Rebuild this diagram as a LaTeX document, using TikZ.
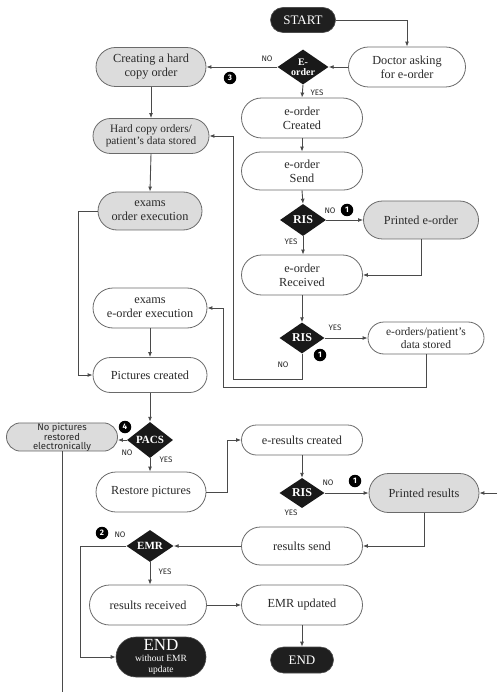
\documentclass[tikz,border=0pt]{standalone}
\usepackage{fontspec}
\setmainfont{Liberation Serif}
\setsansfont{Fira Sans}
\usetikzlibrary{shapes.misc,shapes.geometric,arrows.meta}
\definecolor{boxline}{HTML}{6A6A6A}
\definecolor{boxgray}{HTML}{DCDCDC}
\definecolor{lin}{HTML}{4A4A4A}
\definecolor{txt}{HTML}{2A2A2A}
\begin{document}
\begin{tikzpicture}[x=1pt,y=-1pt,
 box/.style={rounded rectangle, draw=boxline, line width=0.8pt, fill=white, align=center, font=\fontsize{12.3}{14}\selectfont, text=txt, inner sep=1pt},
 gbox/.style={box, fill=boxgray},
 term/.style={rounded rectangle, fill=black!88, draw=black!70, line width=0.6pt, text=white, align=center, inner sep=1pt},
 diam/.style={diamond, fill=black!90, draw=none, inner sep=0pt},
 dtext/.style={text=white, font=\bfseries\fontsize{12}{12}\selectfont, inner sep=0pt, align=center},
 lab/.style={font=\sffamily\fontsize{8}{8}\selectfont, text=txt, inner sep=0pt},
 num/.style={circle, fill=black, text=white, font=\sffamily\bfseries\fontsize{8}{8}\selectfont, inner sep=0pt, minimum size=12.5pt},
 conn/.style={draw=lin, line width=0.9pt},
 arr/.style={conn, -{Latex[length=5pt,width=4pt]}},
]
\path[use as bounding box] (0,0) rectangle (497,692);

% terminals
\node[term, minimum width=67pt, minimum height=25pt, font=\fontsize{13}{13}\selectfont] (start) at (303,20) {START};
\node[term, minimum width=65pt, minimum height=26pt, font=\fontsize{13}{13}\selectfont] (end) at (302,660) {END};
\node[term, minimum width=92pt, minimum height=40pt] (endw) at (161,657) {{\fontsize{17}{14}\selectfont END}\\[-1pt]{\fontsize{9.5}{9.5}\selectfont without EMR}\\[-1pt]{\fontsize{9.5}{9.5}\selectfont update}};

% boxes
\node[box, minimum width=119pt, minimum height=40pt] (doctor) at (407,67) {Doctor asking\\for e-order};
\node[gbox, minimum width=112pt, minimum height=39pt] (hard) at (151,67) {Creating a hard\\copy order};
\node[box, minimum width=123pt, minimum height=40pt] (created) at (302,118) {e-order\\Created};
\node[box, minimum width=123pt, minimum height=38pt] (send) at (302,171) {e-order\\Send};
\node[gbox, minimum width=117pt, minimum height=38pt] (pe) at (421,220) {Printed e-order};
\node[box, minimum width=123pt, minimum height=40pt] (recv) at (302,275) {e-order\\Received};
\node[box, minimum width=118pt, minimum height=32pt, font=\fontsize{11.5}{12.5}\selectfont] (stored) at (426,338) {e-orders/patient's\\data stored};
\node[gbox, minimum width=118pt, minimum height=35pt, font=\fontsize{11.3}{12.5}\selectfont] (hcstored) at (151,136) {Hard copy orders/\\patient's data stored};
\node[gbox, minimum width=106pt, minimum height=38pt] (exord) at (150,211) {exams\\order execution};
\node[box, minimum width=116pt, minimum height=40pt] (exeord) at (150,308) {exams\\e-order execution};
\node[box, minimum width=116pt, minimum height=35pt] (pics) at (150,375) {Pictures created};
\node[gbox, minimum width=111pt, minimum height=27pt, inner sep=0pt, font=\sffamily\fontsize{9.5}{8.6}\selectfont] (nopics) at (62,437) {No pictures\\restored\\electronically};
\node[box, minimum width=112pt, minimum height=40pt] (restore) at (151,492) {Restore pictures};
\node[box, minimum width=123pt, minimum height=30pt] (eres) at (302,440) {e-results created};
\node[gbox, minimum width=112pt, minimum height=39pt] (pres) at (424,493) {Printed results};
\node[box, minimum width=123pt, minimum height=38pt] (rsend) at (302,546) {results send};
\node[box, minimum width=119pt, minimum height=40pt] (rrecv) at (148,605) {results received};
\node[box, minimum width=123pt, minimum height=40pt] (emrup) at (302,605) {EMR updated};

% diamonds
\node[diam, minimum width=51pt, minimum height=35pt, label={[dtext, font=\bfseries\fontsize{10}{10}\selectfont]center:E-\\order}] (eo) at (303,67) {};
\node[diam, minimum width=46pt, minimum height=32pt, label={[dtext]center:RIS}] (r1) at (303,220) {};
\node[diam, minimum width=45pt, minimum height=31pt, label={[dtext]center:RIS}] (r2) at (302,338) {};
\node[diam, minimum width=46pt, minimum height=36pt, label={[dtext, font=\bfseries\fontsize{11}{11}\selectfont]center:PACS}] (pacs) at (150,440) {};
\node[diam, minimum width=45pt, minimum height=30pt, label={[dtext]center:RIS}] (r3) at (302,493) {};
\node[diam, minimum width=47pt, minimum height=32pt, label={[dtext, font=\bfseries\fontsize{11}{11}\selectfont]center:EMR}] (emr) at (150,546) {};

% helper coordinates
\coordinate (c1) at (233,379);
\coordinate (c2) at (223,387);
\coordinate (c3) at (78,211);
\coordinate (c4) at (62,692);
\coordinate (c5) at (227,440);
\coordinate (c6) at (497,493);
\coordinate (c7) at (80,546);

% connectors
\draw[arr] (start.east) -| (doctor.north);
\draw[arr] (doctor.west) -- (eo.east);
\draw[arr] (eo.west) -- (hard.east);
\draw[arr] (eo.south) -- (created.north);
\draw[arr] (created.south) -- (send.north);
\draw[arr] (send.south) -- (r1.north);
\draw[arr] (r1.east) -- (pe.west);
\draw[arr] (r1.south) -- (r1.south |- recv.north);
\draw[arr] (pe.south) |- (recv.east);
\draw[arr] (recv.south) -- (r2.north);
\draw[arr] (r2.east) -- (stored.west);
\draw[arr] (r2.south) |- (c1) |- (hcstored.east);
\draw[arr] (stored.south) |- (c2) |- (exeord.east);
\draw[arr] (hard.south) -- (hcstored.north);
\draw[arr] (hcstored.south) -- (exord.north);
\draw[arr] (exord.west) -- (c3) |- (pics.west);
\draw[arr] (exeord.south) -- (pics.north);
\draw[arr] (pics.south) -- (pacs.north);
\draw[arr] (pacs.west) -- (pacs.west -| nopics.east);
\draw[conn] (nopics.south) -- (c4);
\draw[arr] (pacs.south) -- (pacs.south |- restore.north);
\draw[arr] (restore.east) -| (c5) -- (eres.west);
\draw[arr] (eres.south) -- (r3.north);
\draw[arr] (r3.east) -- (pres.west);
\draw[arr] (c6) -- (pres.east);
\draw[arr] (pres.south) |- (rsend.east);
\draw[arr] (rsend.west) -- (emr.east);
\draw[arr] (emr.west) -- (c7) |- (endw.west);
\draw[arr] (emr.south) -- (emr.south |- rrecv.north);
\draw[arr] (rrecv.east) -- (emrup.west);
\draw[arr] (emrup.south) -- (end.north);

% labels
\node[lab] (l1) at (267,59) {NO};
\node[num] (n3) at (230,78) {3};
\node[lab] (l2) at (317,93) {YES};
\node[lab] (l3) at (330,211) {NO};
\node[num] (n1a) at (347,210) {1};
\node[lab] (l4) at (291,242) {YES};
\node[lab] (l5) at (335,328) {YES};
\node[num] (n1b) at (320,355) {1};
\node[lab] (l6) at (283,365) {NO};
\node[num] (n4) at (125,427) {4};
\node[lab] (l7) at (127,453) {NO};
\node[lab] (l8) at (166,460) {YES};
\node[lab] (l9) at (328,483) {NO};
\node[num] (n1c) at (355,481) {1};
\node[lab] (l10) at (291,513) {YES};
\node[num] (n2) at (102,533) {2};
\node[lab] (l11) at (120,535) {NO};
\node[lab] (l12) at (165,572) {YES};
\end{tikzpicture}
\end{document}
